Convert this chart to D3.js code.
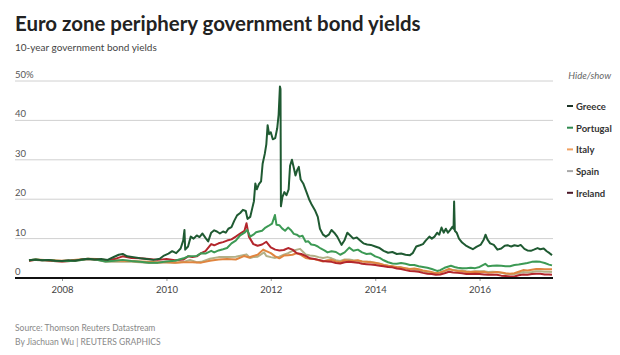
<!DOCTYPE html>
<html><head><meta charset="utf-8">
<script src="https://cdn.jsdelivr.net/npm/d3@7"></script>
<style>
html,body{margin:0;padding:0;background:#fff;}
svg{display:block;font-family:Lato,"Open Sans",sans-serif;}
</style></head>
<body><svg id="c" width="620" height="355"></svg>
<script>
const seriesNames = ["Greece","Portugal","Italy","Spain","Ireland"];
const seriesColors = {Greece:"#1f5a32",Portugal:"#3d9a55",Italy:"#e0853f",Spain:"#b3b087",Ireland:"#b3262c"};
const legendColors = {Greece:"#1c3326",Portugal:"#2f8a4f",Italy:"#f0a060",Spain:"#a8a8a8",Ireland:"#4a1626"};
const yTicks = [0,10,20,30,40,50];
const xTickYears = ["2008","2010","2012","2014","2016"];

const greece = [
["2007-05-15",4.5],["2007-07-01",4.7],["2007-08-15",4.5],["2007-10-01",4.6],["2007-11-15",4.4],["2008-01-01",4.3],["2008-02-15",4.5],["2008-04-01",4.4],["2008-05-15",4.7],["2008-07-01",4.9],["2008-08-15",4.7],["2008-10-01",4.8],["2008-11-15",4.6],["2009-01-01",5.4],["2009-02-01",5.9],["2009-03-01",6.1],["2009-04-01",5.5],["2009-05-15",5.3],["2009-07-01",5.0],["2009-08-15",4.8],["2009-10-01",4.6],["2009-11-15",4.9],["2009-12-15",5.7],["2010-01-15",6.2],["2010-02-10",6.8],["2010-03-10",6.3],["2010-04-10",7.5],["2010-04-28",9.5],["2010-05-07",12.2],["2010-05-12",7.2],["2010-06-01",8.0],["2010-06-20",10.5],["2010-07-10",10.0],["2010-08-01",10.8],["2010-08-20",10.4],["2010-09-10",11.3],["2010-10-01",10.2],["2010-10-20",9.3],["2010-11-10",11.5],["2010-12-01",12.1],["2010-12-20",11.8],["2011-01-10",11.3],["2011-02-01",11.8],["2011-02-20",11.5],["2011-03-10",12.5],["2011-04-01",12.9],["2011-04-20",14.5],["2011-05-10",15.9],["2011-06-01",16.5],["2011-06-20",17.3],["2011-07-10",17.0],["2011-07-22",15.0],["2011-08-10",15.5],["2011-08-25",17.8],["2011-09-05",19.5],["2011-09-15",24.0],["2011-09-25",22.5],["2011-10-10",23.8],["2011-10-25",24.5],["2011-11-05",29.0],["2011-11-20",31.5],["2011-12-01",34.0],["2011-12-10",38.8],["2011-12-20",36.5],["2012-01-01",37.0],["2012-01-15",35.2],["2012-02-01",35.5],["2012-02-15",38.0],["2012-02-25",41.5],["2012-03-05",48.6],["2012-03-09",48.0],["2012-03-12",18.2],["2012-03-22",20.5],["2012-04-05",21.8],["2012-04-20",21.0],["2012-05-05",22.5],["2012-05-15",28.5],["2012-05-28",30.0],["2012-06-10",28.0],["2012-06-22",26.0],["2012-07-05",27.5],["2012-07-15",28.2],["2012-07-28",25.0],["2012-08-15",24.0],["2012-09-05",22.0],["2012-09-25",20.0],["2012-10-15",18.5],["2012-11-05",17.2],["2012-11-25",15.5],["2012-12-10",12.5],["2013-01-01",11.0],["2013-01-20",10.5],["2013-02-10",11.0],["2013-03-01",12.2],["2013-03-20",11.5],["2013-04-10",10.5],["2013-05-10",8.4],["2013-05-30",9.5],["2013-06-20",11.5],["2013-07-10",10.8],["2013-08-01",10.0],["2013-08-25",10.3],["2013-09-15",9.6],["2013-10-10",8.8],["2013-11-05",8.5],["2013-12-01",8.4],["2014-01-01",8.0],["2014-02-01",7.6],["2014-03-01",6.9],["2014-04-01",6.4],["2014-05-01",6.6],["2014-06-01",6.1],["2014-07-01",6.2],["2014-08-01",5.9],["2014-09-01",5.8],["2014-09-20",6.3],["2014-10-15",8.0],["2014-11-10",8.3],["2014-12-01",8.6],["2014-12-20",9.5],["2015-01-15",10.5],["2015-02-01",10.0],["2015-02-20",10.5],["2015-03-10",11.5],["2015-03-25",11.0],["2015-04-10",12.8],["2015-04-25",11.5],["2015-05-10",12.5],["2015-05-25",11.5],["2015-06-10",12.2],["2015-06-25",13.0],["2015-07-03",12.5],["2015-07-07",19.4],["2015-07-12",12.0],["2015-07-25",11.5],["2015-08-10",10.0],["2015-09-01",9.0],["2015-09-25",8.3],["2015-10-20",7.8],["2015-11-15",7.3],["2015-12-10",7.9],["2016-01-10",8.5],["2016-01-30",9.7],["2016-02-12",11.0],["2016-02-25",9.8],["2016-03-15",8.8],["2016-04-10",8.4],["2016-05-05",7.2],["2016-06-01",7.5],["2016-06-25",8.2],["2016-07-15",8.3],["2016-08-10",8.0],["2016-09-01",8.3],["2016-09-25",8.1],["2016-10-15",8.4],["2016-11-10",7.4],["2016-12-01",7.0],["2016-12-25",6.9],["2017-01-15",7.2],["2017-02-10",7.6],["2017-03-01",7.3],["2017-03-25",7.5],["2017-04-15",6.8],["2017-05-05",6.3],["2017-05-22",5.8]
];
const portugal = [
["2007-05-15",4.5],["2007-07-01",4.7],["2007-08-15",4.5],["2007-10-01",4.5],["2007-11-15",4.4],["2008-01-01",4.3],["2008-03-01",4.3],["2008-05-01",4.5],["2008-07-01",4.8],["2008-09-01",4.6],["2008-11-01",4.2],["2009-01-01",4.4],["2009-03-01",4.6],["2009-05-01",4.3],["2009-07-01",4.1],["2009-09-01",3.9],["2009-11-01",3.9],["2010-01-01",4.2],["2010-03-01",4.4],["2010-05-01",5.0],["2010-06-01",5.5],["2010-08-01",5.6],["2010-09-01",6.3],["2010-10-01",6.2],["2010-11-10",6.9],["2010-12-01",6.5],["2011-01-01",7.0],["2011-02-01",7.3],["2011-03-01",7.6],["2011-04-01",8.8],["2011-05-01",9.5],["2011-06-01",10.8],["2011-07-01",11.5],["2011-07-20",12.2],["2011-08-10",10.5],["2011-09-01",11.0],["2011-09-20",11.6],["2011-10-10",11.8],["2011-11-01",12.0],["2011-11-25",12.8],["2011-12-15",13.2],["2012-01-10",13.8],["2012-01-30",16.0],["2012-02-10",13.5],["2012-03-01",13.4],["2012-03-20",12.6],["2012-04-10",12.0],["2012-05-01",12.8],["2012-05-20",12.2],["2012-06-10",11.2],["2012-07-01",11.0],["2012-07-20",10.5],["2012-08-10",10.7],["2012-09-01",9.2],["2012-09-20",9.3],["2012-10-10",8.5],["2012-11-01",8.4],["2012-11-25",8.0],["2012-12-15",7.5],["2013-01-10",7.0],["2013-02-01",6.5],["2013-03-01",6.8],["2013-04-01",6.6],["2013-05-01",5.9],["2013-06-01",6.5],["2013-07-03",7.7],["2013-08-01",6.9],["2013-09-01",7.2],["2013-10-01",6.5],["2013-11-01",6.1],["2013-12-01",6.2],["2014-01-01",5.5],["2014-02-01",5.1],["2014-03-01",4.5],["2014-04-01",4.0],["2014-05-01",3.7],["2014-06-01",3.6],["2014-07-01",3.8],["2014-08-01",3.6],["2014-09-01",3.3],["2014-10-01",3.3],["2014-11-01",3.0],["2014-12-01",2.8],["2015-01-01",2.6],["2015-02-01",2.3],["2015-03-10",1.8],["2015-04-01",2.0],["2015-05-01",2.6],["2015-06-15",3.1],["2015-07-10",2.8],["2015-08-01",2.6],["2015-09-01",2.5],["2015-10-01",2.5],["2015-11-01",2.6],["2015-12-01",2.5],["2016-01-01",2.8],["2016-02-10",3.6],["2016-03-01",3.0],["2016-04-01",3.1],["2016-05-01",3.2],["2016-06-01",3.1],["2016-07-01",3.0],["2016-08-01",3.0],["2016-09-01",3.3],["2016-10-01",3.4],["2016-11-01",3.6],["2016-12-01",3.8],["2017-01-01",4.1],["2017-02-01",4.2],["2017-03-01",4.1],["2017-04-01",3.8],["2017-05-01",3.4],["2017-05-22",3.2]
];
const italy = [
["2007-05-15",4.5],["2007-07-01",4.7],["2007-09-01",4.6],["2007-11-01",4.5],["2008-01-01",4.4],["2008-03-01",4.5],["2008-05-01",4.7],["2008-07-01",4.9],["2008-09-01",4.8],["2008-11-01",4.6],["2009-01-01",4.5],["2009-03-01",4.4],["2009-05-01",4.3],["2009-07-01",4.2],["2009-09-01",4.1],["2009-11-01",4.0],["2010-01-01",4.0],["2010-03-01",3.9],["2010-05-01",4.0],["2010-07-01",4.0],["2010-09-01",3.9],["2010-11-01",4.4],["2011-01-01",4.7],["2011-03-01",4.8],["2011-05-01",4.7],["2011-07-01",5.6],["2011-08-01",5.2],["2011-09-01",5.6],["2011-10-01",5.9],["2011-11-09",7.2],["2011-12-01",6.8],["2012-01-01",6.3],["2012-02-01",5.5],["2012-03-01",5.0],["2012-04-01",5.7],["2012-05-01",5.8],["2012-06-01",5.9],["2012-07-01",6.3],["2012-08-01",5.8],["2012-09-01",5.1],["2012-10-01",4.9],["2012-11-01",4.8],["2012-12-01",4.5],["2013-01-01",4.2],["2013-02-01",4.5],["2013-03-01",4.6],["2013-04-01",4.2],["2013-05-01",4.0],["2013-06-01",4.5],["2013-07-01",4.4],["2013-08-01",4.3],["2013-09-01",4.5],["2013-10-01",4.2],["2013-11-01",4.1],["2013-12-01",4.0],["2014-01-01",3.9],["2014-02-01",3.6],["2014-03-01",3.3],["2014-04-01",3.1],["2014-05-01",3.0],["2014-06-01",2.8],["2014-07-01",2.7],["2014-08-01",2.5],["2014-09-01",2.3],["2014-10-01",2.4],["2014-11-01",2.2],["2014-12-01",1.9],["2015-01-01",1.7],["2015-02-01",1.5],["2015-03-01",1.2],["2015-04-01",1.4],["2015-05-01",1.8],["2015-06-01",2.3],["2015-07-01",2.0],["2015-08-01",1.8],["2015-09-01",1.7],["2015-10-01",1.5],["2015-11-01",1.5],["2015-12-01",1.6],["2016-01-01",1.5],["2016-02-01",1.6],["2016-03-01",1.3],["2016-04-01",1.4],["2016-05-01",1.5],["2016-06-01",1.4],["2016-07-01",1.2],["2016-08-01",1.1],["2016-09-01",1.2],["2016-10-01",1.6],["2016-11-01",2.0],["2016-12-01",1.9],["2017-01-01",2.1],["2017-02-01",2.3],["2017-03-01",2.3],["2017-04-01",2.2],["2017-05-01",2.2],["2017-05-22",2.2]
];
const spain = [
["2007-05-15",4.4],["2007-07-01",4.6],["2007-09-01",4.5],["2007-11-01",4.3],["2008-01-01",4.2],["2008-03-01",4.3],["2008-05-01",4.5],["2008-07-01",4.8],["2008-09-01",4.6],["2008-11-01",4.1],["2009-01-01",4.1],["2009-03-01",4.2],["2009-05-01",4.1],["2009-07-01",4.0],["2009-09-01",3.8],["2009-11-01",3.8],["2010-01-01",4.0],["2010-03-01",3.9],["2010-05-01",4.1],["2010-06-15",4.6],["2010-08-01",4.0],["2010-09-01",4.1],["2010-11-01",4.9],["2011-01-01",5.3],["2011-03-01",5.3],["2011-05-01",5.4],["2011-07-15",6.0],["2011-08-10",5.1],["2011-09-01",5.3],["2011-10-01",5.4],["2011-11-15",6.5],["2011-12-01",5.6],["2012-01-01",5.3],["2012-02-01",5.1],["2012-03-01",5.4],["2012-04-01",5.9],["2012-05-01",6.3],["2012-06-01",6.9],["2012-07-24",7.4],["2012-08-15",6.6],["2012-09-01",6.0],["2012-10-01",5.7],["2012-11-01",5.6],["2012-12-01",5.3],["2013-01-01",5.1],["2013-02-01",5.3],["2013-03-01",5.0],["2013-04-01",4.5],["2013-05-01",4.3],["2013-06-01",4.7],["2013-07-01",4.7],["2013-08-01",4.5],["2013-09-01",4.4],["2013-10-01",4.2],["2013-11-01",4.1],["2013-12-01",4.1],["2014-01-01",3.8],["2014-02-01",3.6],["2014-03-01",3.3],["2014-04-01",3.1],["2014-05-01",2.9],["2014-06-01",2.7],["2014-07-01",2.7],["2014-08-01",2.4],["2014-09-01",2.2],["2014-10-01",2.1],["2014-11-01",2.0],["2014-12-01",1.7],["2015-01-01",1.5],["2015-02-01",1.4],["2015-03-01",1.2],["2015-04-01",1.4],["2015-05-01",1.8],["2015-06-01",2.2],["2015-07-01",2.0],["2015-08-01",1.9],["2015-09-01",1.9],["2015-10-01",1.7],["2015-11-01",1.6],["2015-12-01",1.7],["2016-01-01",1.7],["2016-02-01",1.7],["2016-03-01",1.5],["2016-04-01",1.6],["2016-05-01",1.5],["2016-06-01",1.3],["2016-07-01",1.1],["2016-08-01",1.0],["2016-09-01",1.0],["2016-10-01",1.2],["2016-11-01",1.5],["2016-12-01",1.4],["2017-01-01",1.5],["2017-02-01",1.7],["2017-03-01",1.7],["2017-04-01",1.6],["2017-05-01",1.6],["2017-05-22",1.5]
];
const ireland = [
["2007-05-15",4.4],["2007-07-01",4.6],["2007-09-01",4.5],["2007-11-01",4.3],["2008-01-01",4.2],["2008-03-01",4.3],["2008-05-01",4.6],["2008-07-01",4.8],["2008-09-01",4.7],["2008-11-01",4.4],["2009-01-01",4.8],["2009-03-01",5.5],["2009-05-01",5.1],["2009-07-01",5.0],["2009-09-01",4.8],["2009-11-01",4.6],["2010-01-01",4.8],["2010-03-01",4.5],["2010-05-01",4.7],["2010-06-01",5.5],["2010-07-01",5.3],["2010-08-01",5.5],["2010-09-01",6.3],["2010-10-01",6.8],["2010-11-10",8.6],["2010-12-01",8.3],["2011-01-01",8.8],["2011-02-01",9.1],["2011-03-01",9.5],["2011-04-01",9.8],["2011-05-01",10.5],["2011-06-01",11.3],["2011-07-01",12.0],["2011-07-15",13.9],["2011-08-01",10.5],["2011-09-01",8.6],["2011-10-01",8.2],["2011-11-01",8.5],["2011-12-01",9.2],["2012-01-01",7.8],["2012-02-01",7.2],["2012-03-01",7.0],["2012-04-01",7.1],["2012-05-01",7.6],["2012-06-01",7.2],["2012-07-01",6.3],["2012-08-01",6.1],["2012-09-01",5.6],["2012-10-01",5.0],["2012-11-01",4.8],["2012-12-01",4.6],["2013-01-01",4.3],["2013-02-01",4.2],["2013-03-01",4.1],["2013-04-01",3.8],["2013-05-01",3.7],["2013-06-01",4.0],["2013-07-01",4.1],["2013-08-01",4.0],["2013-09-01",3.9],["2013-10-01",3.6],["2013-11-01",3.5],["2013-12-01",3.4],["2014-01-01",3.3],["2014-02-01",3.1],["2014-03-01",3.0],["2014-04-01",2.8],["2014-05-01",2.7],["2014-06-01",2.4],["2014-07-01",2.3],["2014-08-01",2.0],["2014-09-01",1.8],["2014-10-01",1.7],["2014-11-01",1.6],["2014-12-01",1.3],["2015-01-01",1.1],["2015-02-01",1.0],["2015-03-01",0.8],["2015-04-01",0.9],["2015-05-01",1.2],["2015-06-01",1.6],["2015-07-01",1.4],["2015-08-01",1.3],["2015-09-01",1.2],["2015-10-01",1.0],["2015-11-01",1.0],["2015-12-01",1.1],["2016-01-01",1.0],["2016-02-01",0.9],["2016-03-01",0.8],["2016-04-01",0.8],["2016-05-01",0.8],["2016-06-01",0.6],["2016-07-01",0.5],["2016-08-01",0.4],["2016-09-01",0.4],["2016-10-01",0.7],["2016-11-01",0.9],["2016-12-01",0.8],["2017-01-01",1.0],["2017-02-01",1.1],["2017-03-01",1.1],["2017-04-01",0.9],["2017-05-01",0.9],["2017-05-22",0.8]
];
const seriesData = {Greece:greece,Portugal:portugal,Italy:italy,Spain:spain,Ireland:ireland};
const drawOrder = ["Spain","Italy","Ireland","Portugal","Greece"];

const parse = d3.timeParse("%Y-%m-%d");
const svg = d3.select("#c");

function fitText(sel, target){
  const n = sel.node();
  const fs = parseFloat(sel.attr("font-size"));
  const w = n.getComputedTextLength();
  if (w > 0) sel.attr("font-size", (fs*target/w).toFixed(2));
  return sel;
}

// Title etc.
fitText(svg.append("text").attr("x",15).attr("y",31).attr("font-size",21).attr("font-weight",700)
  .attr("fill","#222").text("Euro zone periphery government bond yields"), 406);
fitText(svg.append("text").attr("x",15).attr("y",51).attr("font-size",11)
  .attr("fill","#444").text("10-year government bond yields"), 142);

const x = d3.scaleTime().domain([parse("2007-05-15"), parse("2017-05-22")]).range([29, 552]);
const y = d3.scaleLinear().domain([0,50]).range([278, 81]);

// gridlines + y labels
const g = svg.append("g");
g.selectAll("line.grid").data(yTicks.filter(d=>d>0)).join("line")
  .attr("x1",15).attr("x2",553).attr("y1",d=>y(d)).attr("y2",d=>y(d))
  .attr("stroke","#d0d0d0").attr("stroke-width",1);
g.selectAll("text.ylab").data(yTicks).join("text")
  .attr("x",15).attr("y",d=>y(d)-3).attr("font-size",9.5).attr("fill","#555")
  .text(d=> d===50 ? "50%" : d);

// lines
const line = d3.line().x(d=>x(parse(d[0]))).y(d=>y(d[1]));
drawOrder.forEach(name=>{
  svg.append("path").datum(seriesData[name]).attr("d",line)
    .attr("fill","none").attr("stroke",seriesColors[name]).attr("stroke-width",2)
    .attr("stroke-linejoin","round");
});

// x axis
const xAxis = d3.axisBottom(x).tickValues(xTickYears.map(s=>parse(s+"-01-01")))
  .tickFormat(d3.timeFormat("%Y")).tickSize(3).tickSizeOuter(0);
const ax = svg.append("g").attr("transform","translate(0,278)").call(xAxis);
ax.select(".domain").remove();
ax.selectAll(".tick line").attr("stroke","#999");
ax.selectAll(".tick text").attr("font-size",9.5).attr("fill","#444").attr("dy","0.9em")
  .attr("font-family","Lato,'Open Sans',sans-serif");
svg.append("line").attr("x1",15).attr("x2",553).attr("y1",278).attr("y2",278)
  .attr("stroke","#111").attr("stroke-width",2);

// legend
svg.append("text").attr("x",611).attr("y",79).attr("text-anchor","end").attr("font-size",9.5)
  .attr("font-style","italic").attr("fill","#666").text("Hide/show");
const lg = svg.append("g");
seriesNames.forEach((name,i)=>{
  const yy = 110 + i*21.7;
  lg.append("line").attr("x1",567).attr("x2",573).attr("y1",yy-4).attr("y2",yy-4)
    .attr("stroke",legendColors[name]).attr("stroke-width",2);
  lg.append("text").attr("x",576).attr("y",yy).attr("font-size",9.5).attr("font-weight",700)
    .attr("fill","#333").text(name);
});

// footer
svg.append("text").attr("x",15).attr("y",331).attr("font-size",8.5).attr("fill","#888")
  .text("Source: Thomson Reuters Datastream");
svg.append("text").attr("x",15).attr("y",345).attr("font-size",8.5).attr("fill","#888")
  .text("By Jiachuan Wu | REUTERS GRAPHICS");
</script></body></html>
